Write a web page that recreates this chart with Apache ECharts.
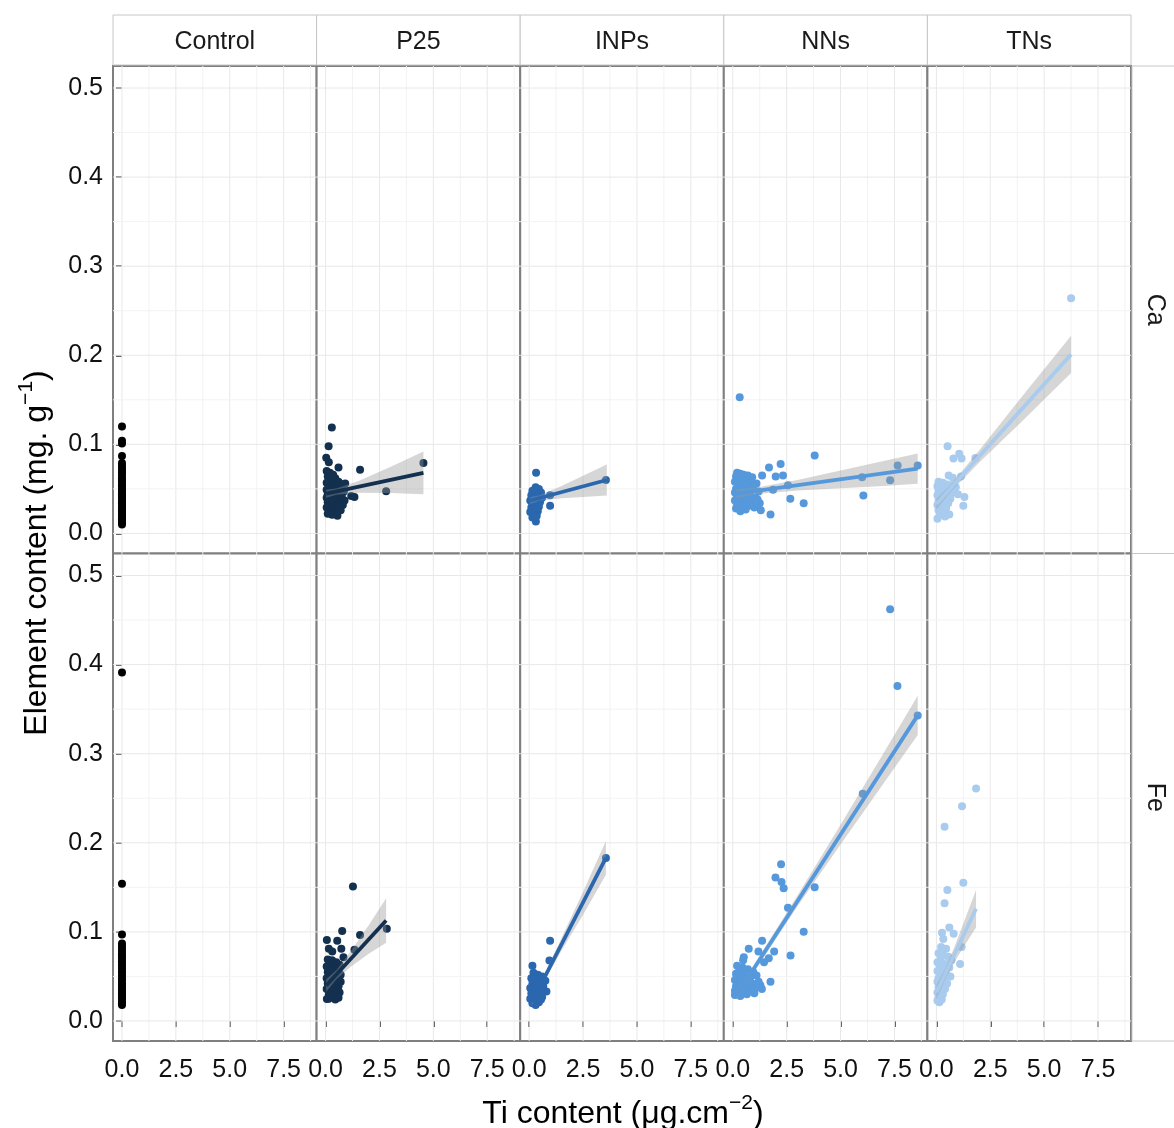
<!DOCTYPE html>
<html><head><meta charset="utf-8">
<script src="https://cdn.jsdelivr.net/npm/echarts@6/dist/echarts.min.js"></script>
<style>html,body{margin:0;padding:0;background:#fff}#c{width:1174px;height:1128px}</style>
</head><body><div id="c"></div>
<script>
// ---------- categories / ticks ----------
const columns = ['Control', 'P25', 'INPs', 'NNs', 'TNs'];
const rows = ['Ca', 'Fe'];
const xTicks = [0, 2.5, 5, 7.5];
const xMinor = [1.25, 3.75, 6.25, 8.75];
const yTicks = [0, 0.1, 0.2, 0.3, 0.4, 0.5];
const yMinor = [0.05, 0.15, 0.25, 0.35, 0.45];
const colors = ['#000000', '#14304f', '#2a67ae', '#5599dc', '#a8cbee'];

// ---------- Ca row data ----------
const ca_Control_y = [0.120, 0.104, 0.101, 0.087, 0.079, 0.076, 0.073, 0.070, 0.068, 0.065, 0.062, 0.060, 0.058, 0.055, 0.053, 0.050, 0.048, 0.046, 0.044, 0.042, 0.040, 0.038, 0.036, 0.034, 0.032, 0.030, 0.028, 0.026, 0.024, 0.022, 0.020, 0.018, 0.016, 0.014, 0.012, 0.010];
const ca_P25 = [[0.29,0.119],[0.14,0.098],[0.03,0.085],[0.15,0.080],[0.60,0.074],[1.60,0.0715],[4.54,0.079],[2.81,0.0475],[1.34,0.041],[1.19,0.042],[0.91,0.056],
  [0.05,0.070],[0.2,0.068],[0.35,0.066],[0.1,0.064],[0.45,0.062],[0.25,0.060],[0.6,0.058],[0.05,0.057],[0.8,0.055],[0.3,0.054],[0.15,0.052],[0.5,0.051],[0.7,0.050],[0.05,0.049],[0.35,0.048],[0.85,0.047],[0.2,0.046],[0.6,0.045],[0.1,0.044],[0.45,0.043],[0.75,0.042],[0.3,0.041],[0.05,0.040],[0.55,0.039],[0.2,0.038],[0.88,0.037],[0.4,0.036],[0.1,0.035],[0.65,0.034],[0.3,0.033],[0.8,0.032],[0.15,0.031],[0.5,0.030],[0.05,0.029],[0.35,0.027],[0.7,0.026],[0.2,0.025],[0.55,0.024],[0.1,0.022],[0.55,0.020],[0.3,0.021]];
const ca_INPs = [[0.32,0.068],[3.56,0.060],[0.97,0.043],[0.97,0.031],[0.31,0.0135],
  [0.3,0.052],[0.45,0.050],[0.15,0.048],[0.55,0.046],[0.25,0.045],[0.1,0.043],[0.4,0.042],[0.6,0.040],[0.2,0.039],[0.05,0.037],[0.35,0.036],[0.5,0.035],[0.15,0.033],[0.3,0.032],[0.45,0.030],[0.1,0.029],[0.25,0.027],[0.4,0.025],[0.05,0.024],[0.2,0.022],[0.35,0.020],[0.15,0.018],[0.3,0.019]];
const ca_NNs = [[0.32,0.153],[3.8,0.0876],[2.22,0.078],[1.68,0.074],[1.36,0.065],[1.99,0.064],[2.33,0.065],[7.65,0.0764],[8.58,0.0764],[7.3,0.0596],[6.06,0.0427],[6.0,0.063],[2.67,0.039],[3.29,0.034],[1.75,0.0213],[1.30,0.026],[0.35,0.025],[2.56,0.054],[1.87,0.049],
  [0.2,0.068],[0.35,0.067],[0.5,0.066],[0.15,0.064],[0.7,0.065],[0.9,0.063],[0.3,0.061],[0.55,0.060],[0.1,0.058],[0.8,0.057],[0.4,0.055],[1.1,0.056],[0.25,0.053],[0.6,0.052],[0.15,0.050],[0.95,0.051],[0.45,0.048],[0.7,0.047],[0.1,0.046],[1.2,0.047],[0.3,0.044],[0.55,0.043],[0.85,0.042],[0.2,0.041],[1.05,0.040],[0.4,0.039],[0.65,0.038],[0.1,0.037],[0.9,0.036],[0.3,0.035],[0.5,0.034],[1.25,0.034],[0.2,0.032],[0.75,0.031],[0.45,0.030],[1.0,0.029],[0.15,0.028],[0.6,0.027],[0.35,0.026],[0.85,0.033],[1.15,0.038]];
const ca_TNs = [[6.25,0.264],[0.52,0.0978],[0.79,0.084],[1.06,0.0895],[1.17,0.084],[1.81,0.0846],[1.14,0.064],[0.57,0.065],[0.76,0.0626],[1.30,0.041],[1.25,0.031],[0.6,0.0213],[0.05,0.0165],
  [0.1,0.058],[0.3,0.057],[0.5,0.055],[0.05,0.053],[0.7,0.054],[0.2,0.051],[0.4,0.050],[0.9,0.052],[0.1,0.048],[0.6,0.047],[0.3,0.045],[0.8,0.046],[0.05,0.043],[0.45,0.042],[0.2,0.040],[0.65,0.039],[0.1,0.037],[0.35,0.036],[0.55,0.034],[0.05,0.032],[0.25,0.030],[0.45,0.028],[0.1,0.026],[0.3,0.024],[0.15,0.021],[0.4,0.019],[1.0,0.044]];

// ---------- Fe row data ----------
const fe_Control_y = [0.391, 0.154, 0.097, 0.087, 0.084, 0.081, 0.078, 0.075, 0.072, 0.070, 0.067, 0.064, 0.062, 0.059, 0.056, 0.054, 0.051, 0.048, 0.046, 0.043, 0.041, 0.038, 0.036, 0.034, 0.031, 0.029, 0.027, 0.025, 0.022, 0.020, 0.018];
const fe_P25 = [[1.27,0.151],[0.77,0.101],[1.6,0.0966],[2.84,0.1034],[0.06,0.091],[0.54,0.090],[0.15,0.081],[0.31,0.078],[0.73,0.081],[0.83,0.0716],[1.34,0.080],[0.06,0.0247],[0.45,0.024],
  [0.1,0.069],[0.3,0.068],[0.5,0.066],[0.2,0.064],[0.65,0.063],[0.05,0.061],[0.4,0.060],[0.25,0.058],[0.6,0.057],[0.1,0.055],[0.45,0.054],[0.7,0.052],[0.2,0.051],[0.35,0.049],[0.05,0.048],[0.55,0.047],[0.25,0.045],[0.7,0.044],[0.1,0.042],[0.4,0.041],[0.6,0.039],[0.2,0.038],[0.05,0.036],[0.5,0.035],[0.3,0.033],[0.65,0.032],[0.15,0.030],[0.45,0.029],[0.3,0.027],[0.6,0.026],[0.15,0.025]];
const fe_INPs = [[3.56,0.183],[0.97,0.090],[0.94,0.0678],[0.15,0.062],
  [0.2,0.054],[0.4,0.052],[0.6,0.050],[0.1,0.048],[0.3,0.047],[0.75,0.045],[0.5,0.044],[0.15,0.042],[0.35,0.040],[0.65,0.039],[0.05,0.037],[0.25,0.035],[0.5,0.034],[0.8,0.033],[0.1,0.031],[0.4,0.030],[0.2,0.028],[0.6,0.027],[0.05,0.025],[0.3,0.023],[0.45,0.021],[0.15,0.020],[0.3,0.018],[0.55,0.024]];
const fe_NNs = [[7.30,0.462],[7.64,0.376],[8.58,0.343],[6.03,0.255],[2.24,0.176],[1.98,0.161],[2.26,0.156],[2.36,0.149],[3.80,0.150],[2.56,0.127],[3.29,0.100],[2.68,0.0734],[1.36,0.090],[0.74,0.081],[1.92,0.078],[1.67,0.0704],[1.19,0.078],[1.45,0.066],[1.75,0.044],[0.51,0.0716],[0.48,0.068],[1.28,0.040],
  [0.2,0.062],[0.45,0.060],[0.7,0.058],[0.3,0.056],[0.95,0.055],[0.15,0.053],[0.55,0.052],[1.1,0.051],[0.35,0.049],[0.8,0.048],[0.1,0.046],[0.6,0.045],[1.2,0.044],[0.25,0.043],[0.9,0.042],[0.45,0.040],[0.15,0.039],[0.7,0.038],[1.05,0.037],[0.3,0.036],[0.55,0.035],[0.1,0.034],[0.85,0.033],[0.4,0.032],[0.2,0.031],[0.65,0.030],[0.1,0.029],[0.35,0.028],[1.35,0.036],[1.0,0.031]];
const fe_TNs = [[1.84,0.261],[1.19,0.241],[0.38,0.218],[1.25,0.155],[0.51,0.147],[0.38,0.132],[0.60,0.105],[0.80,0.098],[0.26,0.099],[0.32,0.092],[0.22,0.083],[0.45,0.081],[1.17,0.083],[1.10,0.064],[0.14,0.021],
  [0.1,0.076],[0.3,0.074],[0.55,0.072],[0.2,0.069],[0.7,0.068],[0.05,0.066],[0.4,0.064],[0.15,0.062],[0.6,0.060],[0.3,0.058],[0.05,0.056],[0.45,0.054],[0.2,0.052],[0.65,0.050],[0.1,0.048],[0.35,0.046],[0.05,0.044],[0.5,0.042],[0.25,0.040],[0.1,0.038],[0.4,0.036],[0.15,0.034],[0.05,0.032],[0.3,0.030],[0.2,0.028],[0.1,0.026],[0.25,0.024],[0.05,0.023]];

// ---------- fitted lines (endpoints) and confidence bands [x, lower, upper] ----------
const fit_ca_P25 = [[0.03,0.0446],[4.54,0.068]];
const band_ca_P25 = [[0.03,0.0401,0.0491],[0.5,0.0435,0.0505],[1.5,0.0457,0.0587],[3.0,0.0455,0.0745],[4.54,0.044,0.092]];
const fit_ca_INPs = [[0.05,0.037],[3.6,0.060]];
const band_ca_INPs = [[0.05,0.033,0.041],[0.5,0.0369,0.0429],[1.5,0.0394,0.0534],[2.5,0.0409,0.0649],[3.6,0.0425,0.0775]];
const fit_ca_NNs = [[0.17,0.0446],[8.58,0.0727]];
const band_ca_NNs = [[0.17,0.0396,0.0496],[1.0,0.0439,0.0509],[3.0,0.0481,0.0601],[5.0,0.0507,0.0707],[7.0,0.0534,0.0814],[8.58,0.0557,0.0897]];
const fit_ca_TNs = [[0.0,0.033],[6.25,0.201]];
const band_ca_TNs = [[0.0,0.027,0.039],[0.6,0.0451,0.0531],[2.0,0.0798,0.0938],[4.0,0.1266,0.1546],[6.25,0.180,0.222]];
const fit_fe_P25 = [[0.03,0.0397],[2.81,0.1127]];
const band_fe_P25 = [[0.03,0.0327,0.0467],[0.5,0.0468,0.0568],[1.2,0.0615,0.0795],[2.0,0.0754,0.1074],[2.81,0.0877,0.1377]];
const fit_fe_INPs = [[0.12,0.021],[3.56,0.183]];
const band_fe_INPs = [[0.12,0.017,0.025],[0.5,0.0359,0.0419],[1.5,0.0790,0.0930],[2.5,0.1191,0.1451],[3.56,0.164,0.202]];
const fit_fe_NNs = [[0.17,0.0285],[8.58,0.343]];
const band_fe_NNs = [[0.17,0.0235,0.0335],[1.0,0.0556,0.0636],[3.0,0.1288,0.1408],[5.0,0.1981,0.2201],[7.0,0.2669,0.3009],[8.58,0.321,0.365]];
const fit_fe_TNs = [[0.0,0.032],[1.84,0.126]];
const band_fe_TNs = [[0.0,0.024,0.040],[0.4,0.0464,0.0584],[0.8,0.0649,0.0809],[1.3,0.0844,0.1124],[1.84,0.105,0.147]];

// ---------- assemble ----------
const points = [
  [ca_Control_y.map(y => [0, y]), ca_P25, ca_INPs, ca_NNs, ca_TNs],
  [fe_Control_y.map(y => [0, y]), fe_P25, fe_INPs, fe_NNs, fe_TNs]
];
const fits = [[null, fit_ca_P25, fit_ca_INPs, fit_ca_NNs, fit_ca_TNs], [null, fit_fe_P25, fit_fe_INPs, fit_fe_NNs, fit_fe_TNs]];
const bands = [[null, band_ca_P25, band_ca_INPs, band_ca_NNs, band_ca_TNs], [null, band_fe_P25, band_fe_INPs, band_fe_NNs, band_fe_TNs]];

const FF = "'Liberation Sans', Arial, Helvetica, sans-serif";
const colLeft0 = 113, colW = 203.6;
const rowTops = [66, 553.5], rowH = 487.5;
const X_MIN = -0.417, X_MAX = 9.03, Y_MIN = -0.0225, Y_MAX = 0.5247;

const gridLineData = [];
xTicks.forEach(v => gridLineData.push([v, 0, 1]));
xMinor.forEach(v => gridLineData.push([v, 0, 0]));
yTicks.forEach(v => gridLineData.push([v, 1, 1]));
yMinor.forEach(v => gridLineData.push([v, 1, 0]));

function gridRender(params, api) {
  const v = api.value(0), dir = api.value(1), major = api.value(2);
  const cs = params.coordSys;
  let shape;
  if (dir === 0) {
    const x = api.coord([v, 0])[0];
    shape = { x1: x, y1: cs.y, x2: x, y2: cs.y + cs.height };
  } else {
    const y = api.coord([0, v])[1];
    shape = { x1: cs.x, y1: y, x2: cs.x + cs.width, y2: y };
  }
  return { type: 'line', shape, style: { stroke: major ? '#e8e8e8' : '#f4f2f3', lineWidth: 1 } };
}
function bandRender(band) {
  return function (params, api) {
    if (params.dataIndex !== 0) return;
    const pts = [];
    for (let i = 0; i < band.length; i++) pts.push(api.coord([band[i][0], band[i][2]]));
    for (let i = band.length - 1; i >= 0; i--) pts.push(api.coord([band[i][0], band[i][1]]));
    return { type: 'polygon', shape: { points: pts }, style: { fill: 'rgba(153,153,153,0.4)' } };
  };
}

const grid = [], xAxis = [], yAxis = [], series = [];
for (let r = 0; r < 2; r++) {
  for (let c = 0; c < 5; c++) {
    const gi = r * 5 + c;
    grid.push({ left: colLeft0 + c * colW, top: rowTops[r], width: colW, height: rowH,
      show: true, backgroundColor: '#fff', borderColor: '#7f7f7f', borderWidth: 2 });
    xAxis.push({ gridIndex: gi, type: 'value', min: X_MIN, max: X_MAX,
      splitLine: { show: false }, axisLine: { show: false },
      axisTick: { show: r === 1, customValues: xTicks, length: 6, lineStyle: { color: '#333', width: 1.5 } },
      axisLabel: { show: r === 1, customValues: xTicks, formatter: v => v.toFixed(1), fontSize: 25, fontFamily: FF, color: '#111', margin: 17, hideOverlap: false } });
    yAxis.push({ gridIndex: gi, type: 'value', min: Y_MIN, max: Y_MAX,
      splitLine: { show: false }, axisLine: { show: false },
      axisTick: { show: c === 0, customValues: yTicks, length: 6, lineStyle: { color: '#333', width: 1.5 } },
      axisLabel: { show: c === 0, customValues: yTicks, formatter: v => v.toFixed(1), fontSize: 25, fontFamily: FF, color: '#111', margin: 10 } });
    series.push({ type: 'custom', xAxisIndex: gi, yAxisIndex: gi, data: gridLineData, renderItem: gridRender, z: 1, silent: true, encode: { x: 0, y: 1 } });
    series.push({ type: 'scatter', xAxisIndex: gi, yAxisIndex: gi, data: points[r][c], symbol: 'circle', symbolSize: 8,
      itemStyle: { color: colors[c], opacity: 1 }, z: 2, silent: true });
    if (bands[r][c]) {
      series.push({ type: 'custom', xAxisIndex: gi, yAxisIndex: gi, data: bands[r][c], renderItem: bandRender(bands[r][c]), z: 3, silent: true, encode: { x: 0, y: [1, 2] } });
      series.push({ type: 'line', xAxisIndex: gi, yAxisIndex: gi, data: fits[r][c], symbol: 'none', showSymbol: false,
        lineStyle: { color: colors[c], width: 3.8 }, z: 4, silent: true });
    }
  }
}

const graphic = [];
for (let c = 0; c < 5; c++) {
  const x = colLeft0 + c * colW;
  graphic.push({ type: 'rect', shape: { x: x, y: 15, width: colW, height: 50 }, style: { fill: '#fff', stroke: '#c6c6c6', lineWidth: 1 }, silent: true });
  graphic.push({ type: 'text', x: x + colW / 2, y: 42, style: { text: columns[c], fontSize: 25, fontFamily: FF, fill: '#1a1a1a', align: 'center', verticalAlign: 'middle' }, silent: true });
}
for (let r = 0; r < 2; r++) {
  graphic.push({ type: 'rect', shape: { x: 1132, y: rowTops[r], width: 70, height: rowH }, style: { fill: '#fff', stroke: '#c6c6c6', lineWidth: 1 }, silent: true });
  graphic.push({ type: 'text', x: 1155, y: rowTops[r] + rowH / 2, rotation: -Math.PI / 2, style: { text: rows[r], fontSize: 25, fontFamily: FF, fill: '#1a1a1a', align: 'center', verticalAlign: 'middle' }, silent: true });
}
const titleRich = {
  m: { fontSize: 32, fontFamily: FF, fill: '#000', lineHeight: 36 },
  s: { fontSize: 21, fontFamily: FF, fill: '#000', lineHeight: 22, padding: [0, 0, 22, 0] }
};
graphic.push({ type: 'text', x: 623, y: 1114, style: { text: '{m|Ti content (μg.cm}{s|−2}{m|)}', rich: titleRich, align: 'center', verticalAlign: 'middle' }, silent: true });
graphic.push({ type: 'text', x: 37, y: 553, rotation: Math.PI / 2, style: { text: '{m|Element content (mg. g}{s|−1}{m|)}', rich: titleRich, align: 'center', verticalAlign: 'middle' }, silent: true });

const chart = echarts.init(document.getElementById('c'), null, { renderer: 'canvas' });
chart.setOption({ animation: false, backgroundColor: '#fff', grid, xAxis, yAxis, series, graphic });
</script>
</body></html>
